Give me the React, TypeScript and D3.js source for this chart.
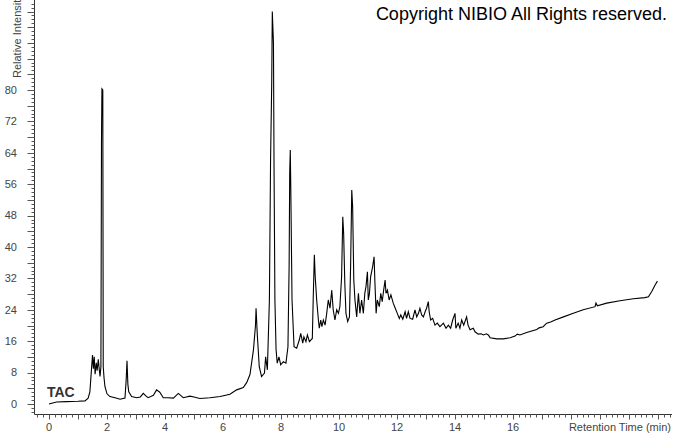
import React from "react";
import * as d3 from "d3";

const times: number[] = [
  0, 0.26, 0.6, 1.0, 1.24, 1.35, 1.41, 1.47, 1.5, 1.53, 1.56, 1.59, 1.63, 1.66, 1.7, 1.73, 1.76, 1.79,
  1.81, 1.825, 1.855, 1.87, 1.9, 1.93, 2.0, 2.1, 2.28, 2.45, 2.62, 2.66, 2.69, 2.72, 2.75, 2.85, 3.02,
  3.15, 3.25, 3.35, 3.42, 3.6, 3.71, 3.82, 3.94, 4.1, 4.29, 4.46, 4.63, 4.86, 5.0, 5.2, 5.55, 5.9,
  6.24, 6.47, 6.7, 6.82, 6.93, 7.05, 7.12, 7.14, 7.18, 7.25, 7.33, 7.43, 7.47, 7.53, 7.6, 7.64, 7.68,
  7.7, 7.74, 7.76, 7.79, 7.83, 7.87, 7.93, 7.99, 8.08, 8.17, 8.24, 8.28, 8.3, 8.32, 8.34, 8.38, 8.45,
  8.54, 8.63, 8.68, 8.75, 8.79, 8.86, 8.91, 8.98, 9.08, 9.11, 9.15, 9.18, 9.23, 9.29, 9.32, 9.37, 9.41,
  9.46, 9.52, 9.57, 9.63, 9.69, 9.75, 9.8, 9.86, 9.92, 9.98, 10.03, 10.09, 10.13, 10.16, 10.2, 10.24,
  10.3, 10.36, 10.4, 10.44, 10.47, 10.51, 10.55, 10.61, 10.67, 10.72, 10.78, 10.84, 10.89, 10.93,
  10.98, 11.01, 11.05, 11.09, 11.16, 11.21, 11.24, 11.28, 11.32, 11.39, 11.44, 11.49, 11.54, 11.59,
  11.62, 11.67, 11.73, 11.79, 11.87, 11.94, 12.01, 12.08, 12.13, 12.2, 12.28, 12.33, 12.39, 12.45,
  12.54, 12.62, 12.68, 12.74, 12.79, 12.85, 12.91, 12.97, 13.02, 13.08, 13.11, 13.16, 13.23, 13.31,
  13.39, 13.48, 13.6, 13.69, 13.77, 13.85, 13.92, 14.0, 14.03, 14.11, 14.17, 14.23, 14.3, 14.4, 14.45,
  14.52, 14.63, 14.69, 14.8, 14.9, 14.98, 15.08, 15.15, 15.21, 15.44, 15.67, 15.9, 16.07, 16.15, 16.24,
  16.47, 16.82, 16.9, 17.04, 17.16, 17.3, 17.45, 17.74, 18.08, 18.42, 18.83, 18.86, 18.91, 19.23, 19.69,
  20.15, 20.55, 20.67, 20.78, 20.9, 20.98,
];

const intensities: number[] = [
  0, 0.5, 0.6, 0.7, 0.8, 1.5, 3.1, 9.4, 12.5, 9, 12, 7.6, 10.5, 8.5, 11.4, 9, 7, 9.5,
  67, 80.3, 80, 9.5, 6.5, 4.4, 2.6, 1.9, 1.6, 1.2, 1.5, 6, 11, 5, 3.1, 1.9, 1.6,
  1.8, 2.7, 2.0, 1.6, 2.2, 3.6, 3.0, 1.6, 1.6, 1.5, 2.7, 1.6, 2.0, 1.8, 1.4, 1.6, 1.9,
  2.5, 3.6, 4.2, 5.5, 7.5, 13.8, 20, 24.4, 18, 9.5, 7, 7.9, 12, 8.7, 26.5, 62, 81.7,
  100, 92, 60, 26.5, 13.8, 10.4, 12, 10, 10.8, 10.4, 14.6, 35, 58.8, 64.7, 53.7, 26.5, 14.6,
  14.2, 16.3, 18, 15.5, 17.1, 15.9, 17.6, 15.9, 16.7, 26.5, 38, 32.4, 26.5, 21.4, 19.3, 21.4, 19.7,
  21.4, 20.1, 22.7, 26.5, 24.4, 29, 24, 21.4, 24, 23.1, 24.8, 32.4, 47.7, 43.5, 30.8, 23.1,
  21, 22.2, 35, 54.5, 50.3, 31.6, 26.5, 22.2, 28.2, 23.1, 26.5, 23.1, 28.2, 29.9,
  33.7, 26.5, 28.2, 32.4, 35, 37.5, 30.7, 23.1, 26.5, 24.8, 28.2, 26.1, 29, 31.6,
  28.2, 29, 26.5, 27.8, 25.7, 24.4, 23.1, 21.8, 22.7, 21.6, 23.5, 21.8, 23.5, 21.8,
  21.6, 24, 22.2, 23.1, 24.4, 22.7, 22.2, 23.5, 24.4, 26.1, 23.5, 21.4, 21.8, 20.1,
  20.6, 19.7, 20.6, 19.3, 20.1, 19.3, 21.4, 23.1, 19.3, 20.6, 19.3, 21.4, 20.1, 22.2, 20.1,
  18.9, 19.3, 18.4, 17.8, 17.9, 17.6, 17.9, 17.6, 16.9, 16.6, 16.6, 16.9, 17.3, 17.8, 17.6,
  18.2, 19, 19.4, 19.7, 20.6, 20.9, 21.4, 22.2, 23.1, 24, 24.8, 25.7, 25, 25.7, 26.3,
  26.8, 27.1, 27.3, 28.6, 30.3, 31.3,
];

const yTickLabels: number[] = [0, 8, 16, 24, 32, 40, 48, 56, 64, 72, 80];
const xTickLabels: number[] = [0, 2, 4, 6, 8, 10, 12, 14, 16];

const W = 673;
const H = 433;

export default function App() {
  const x = d3.scaleLinear().domain([0, 16]).range([49, 513]);
  const y = d3.scaleLinear().domain([0, 80]).range([404, 90]);
  const axisX = 34.5;
  const axisY = 414.5;

  const pts: [number, number][] = times.map((t, i) => [t, intensities[i]]);
  const line = d3
    .line<[number, number]>()
    .x((d) => x(d[0]))
    .y((d) => y(d[1]))
    .curve(d3.curveLinear);

  const yMinor: number[] = d3.range(-2, 103, 1);
  const xMinor: number[] = d3.range(-0.4, 21.45, 0.2).map((v) => Math.round(v * 10) / 10);

  const font = "Arial, 'Liberation Sans', sans-serif";

  return (
    <svg
      width={W}
      height={H}
      style={{ position: "absolute", left: 0, top: 0, background: "#fff" }}
    >
      <line x1={axisX} x2={axisX} y1={0} y2={axisY} stroke="#333" strokeWidth={1} />
      {yMinor.map((v) => {
        const major = v % 4 === 0;
        const yy = Math.round(y(v)) + 0.5;
        if (yy > axisY || yy < 0) return null;
        return (
          <line
            key={"yt" + v}
            x1={axisX - (major ? 7 : 3)}
            x2={axisX}
            y1={yy}
            y2={yy}
            stroke="#555"
            strokeWidth={1}
          />
        );
      })}
      {yTickLabels.map((v) => (
        <text
          key={"yl" + v}
          x={17}
          y={y(v)}
          dy="0.35em"
          textAnchor="end"
          fontFamily={font}
          fontSize={11}
          fill="#444"
        >
          {v}
        </text>
      ))}
      <text
        transform={`translate(21,78) rotate(-90)`}
        fontFamily={font}
        fontSize={11}
        fill="#444"
      >
        Relative Intensity
      </text>

      <line x1={axisX} x2={672} y1={axisY} y2={axisY} stroke="#333" strokeWidth={1} />
      {xMinor.map((v) => {
        const major = Math.abs(v - Math.round(v)) < 1e-6;
        const xx = Math.round(x(v)) + 0.5;
        if (xx < axisX || xx > 672) return null;
        return (
          <line
            key={"xt" + v}
            x1={xx}
            x2={xx}
            y1={axisY}
            y2={axisY + (major ? 5 : 3)}
            stroke="#555"
            strokeWidth={1}
          />
        );
      })}
      {xTickLabels.map((v) => (
        <text
          key={"xl" + v}
          x={x(v)}
          y={431}
          textAnchor="middle"
          fontFamily={font}
          fontSize={11}
          fill="#444"
        >
          {v}
        </text>
      ))}
      <text x={671} y={431} textAnchor="end" fontFamily={font} fontSize={11} fill="#444">
        Retention Time (min)
      </text>

      <path d={line(pts) || ""} fill="none" stroke="#000" strokeWidth={1.1} strokeLinejoin="miter" />

      <text x={47} y={397} fontFamily={font} fontSize={14} fontWeight="bold" fill="#333">
        TAC
      </text>

      <text x={667} y={20} textAnchor="end" fontFamily={font} fontSize={18} fill="#000">
        Copyright NIBIO All Rights reserved.
      </text>
    </svg>
  );
}
